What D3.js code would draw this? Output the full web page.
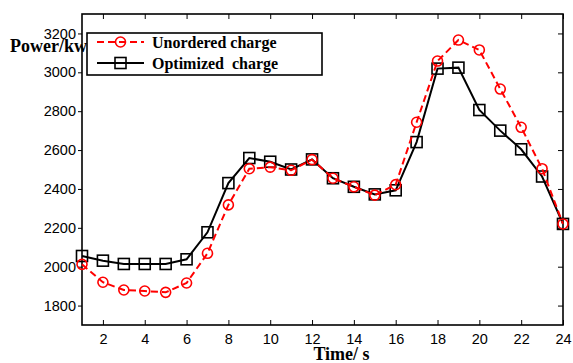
<!DOCTYPE html>
<html><head><meta charset="utf-8">
<script src="https://cdn.jsdelivr.net/npm/d3@7"></script>
<style>body{margin:0;background:#fff}svg{display:block}</style>
</head><body>
<svg id="chart" width="573" height="363"></svg>
<script>
const hours = [1,2,3,4,5,6,7,8,9,10,11,12,13,14,15,16,17,18,19,20,21,22,23,24];
const unordered = [2012,1920,1880,1875,1868,1916,2069,2318,2504,2512,2496,2551,2455,2411,2368,2422,2743,3058,3166,3115,2914,2717,2504,2220];
const optimized = [2055,2031,2014,2014,2014,2038,2177,2430,2559,2540,2500,2552,2455,2411,2372,2393,2641,3019,3024,2806,2700,2604,2464,2220];
const xTicks = [2,4,6,8,10,12,14,16,18,20,22,24];
const yTicks = [1800,2000,2200,2400,2600,2800,3000,3200];
const seriesNames = ["Unordered charge","Optimized  charge"];

const svg = d3.select("#chart");
const L = 82, R = 563, T = 14, B = 325;
const x = d3.scaleLinear().domain([1,24]).range([L,R]);
const y = d3.scaleLinear().domain([1700,3300]).range([B,T]);

const tickFont = "'Liberation Sans', Arial, sans-serif";
const fmt = d3.format("d");
const axB = svg.append("g").attr("transform",`translate(0,${B})`)
  .call(d3.axisBottom(x).tickValues(xTicks).tickFormat(fmt).tickSizeInner(-5).tickSizeOuter(0).tickPadding(9));
const axT = svg.append("g").attr("transform",`translate(0,${T})`)
  .call(d3.axisTop(x).tickValues(xTicks).tickSizeInner(-5).tickSizeOuter(0).tickFormat(""));
const axL = svg.append("g").attr("transform",`translate(${L},0)`)
  .call(d3.axisLeft(y).tickValues(yTicks).tickFormat(fmt).tickSizeInner(4).tickSizeOuter(0).tickPadding(2));
const axR = svg.append("g").attr("transform",`translate(${R},0)`)
  .call(d3.axisRight(y).tickValues(yTicks).tickSizeInner(-5).tickSizeOuter(0).tickFormat(""));
[axB,axT,axL,axR].forEach(a=>{
  a.select(".domain").remove();
  a.selectAll(".tick line").attr("stroke","#000").attr("stroke-width",1);
  a.selectAll("text").attr("font-family",tickFont).attr("font-size",14.5).attr("fill","#000");
});
svg.append("rect").attr("x",L).attr("y",T).attr("width",R-L).attr("height",B-T)
  .attr("fill","none").attr("stroke","#000").attr("stroke-width",1.6);

const line = d3.line().x((d,i)=>x(hours[i])).y(d=>y(d));
svg.append("path").datum(optimized).attr("d",line).attr("fill","none")
  .attr("stroke","#000").attr("stroke-width",2);
svg.append("g").selectAll("rect").data(optimized).join("rect")
  .attr("x",(d,i)=>x(hours[i])-5.5).attr("y",d=>y(d)-5.5).attr("width",11).attr("height",11)
  .attr("fill","none").attr("stroke","#000").attr("stroke-width",1.6);
svg.append("path").datum(unordered).attr("d",line).attr("fill","none")
  .attr("stroke","#ff0000").attr("stroke-width",2).attr("stroke-dasharray","7,4");
svg.append("g").selectAll("circle").data(unordered).join("circle")
  .attr("cx",(d,i)=>x(hours[i])).attr("cy",d=>y(d)).attr("r",5)
  .attr("fill","none").attr("stroke","#ff0000").attr("stroke-width",1.6);

const serif = "'Liberation Serif','Times New Roman',serif";
svg.append("text").attr("x",10).attr("y",52).text("Power/kw")
  .attr("font-family",serif).attr("font-weight","bold").attr("font-size",18);
svg.append("text").attr("x",(L+R)/2+19).attr("y",360).attr("text-anchor","middle").text("Time/ s")
  .attr("font-family",serif).attr("font-weight","bold").attr("font-size",18);

const lg = svg.append("g");
lg.append("rect").attr("x",87).attr("y",33).attr("width",235).attr("height",42)
  .attr("fill","#fff").attr("stroke","#000").attr("stroke-width",1.6);
const ly = [42,63];
lg.append("line").attr("x1",97).attr("x2",144).attr("y1",ly[0]).attr("y2",ly[0])
  .attr("stroke","#ff0000").attr("stroke-width",2).attr("stroke-dasharray","7,4");
lg.append("circle").attr("cx",120.5).attr("cy",ly[0]).attr("r",5)
  .attr("fill","none").attr("stroke","#ff0000").attr("stroke-width",1.6);
lg.append("line").attr("x1",97).attr("x2",144).attr("y1",ly[1]).attr("y2",ly[1])
  .attr("stroke","#000").attr("stroke-width",2);
lg.append("rect").attr("x",115).attr("y",ly[1]-5.5).attr("width",11).attr("height",11)
  .attr("fill","none").attr("stroke","#000").attr("stroke-width",1.6);
lg.selectAll("text.lt").data(seriesNames).join("text").attr("class","lt")
  .attr("x",152).attr("y",(d,i)=>ly[i]+5.5).text(d=>d)
  .attr("xml:space","preserve").style("white-space","pre")
  .attr("font-family",serif).attr("font-weight","bold").attr("font-size",16);
</script>
</body></html>
